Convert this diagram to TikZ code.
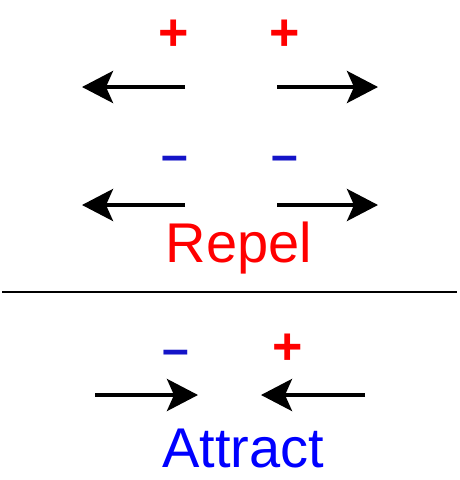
\documentclass[tikz,border=0pt]{standalone}
\usepackage{fontspec}
\setmainfont{Liberation Sans}
\usetikzlibrary{arrows.meta}
\begin{document}
\begin{tikzpicture}[x=1pt,y=-1pt,
  force/.style={line width=4pt,-{Stealth[length=31pt,width=32pt,inset=7pt]}},
  charge/.style={inner sep=0pt,font=\fontsize{48}{48}\selectfont\bfseries},
  poscharge/.style={inner sep=0pt,font=\fontsize{52}{52}\selectfont\bfseries,text={rgb,255:red,255;green,0;blue,0}},
  negcharge/.style={charge,text={rgb,255:red,20;green,20;blue,200}},
  word/.style={inner sep=0pt,anchor=base,font=\fontsize{56}{56}\selectfont}]
\useasboundingbox (0,0) rectangle (460,480);
% row 1: + +
\node[poscharge] (p1) at (174,35) {+};
\node[poscharge] (p2) at (285,35) {+};
\coordinate (a1s) at (185,87); \coordinate (a1e) at (82,87);
\coordinate (a2s) at (277,87); \coordinate (a2e) at (378,87);
\draw[force] (a1s) -- (a1e);
\draw[force] (a2s) -- (a2e);
% row 2: - -
\node[negcharge] (n1) at (175,164) {–};
\node[negcharge] (n2) at (285,164) {–};
\coordinate (b1s) at (185,205); \coordinate (b1e) at (82,205);
\coordinate (b2s) at (277,205); \coordinate (b2e) at (378,205);
\draw[force] (b1s) -- (b1e);
\draw[force] (b2s) -- (b2e);
\node[word,text=red] (repel) at (239,262) {Repel};
% divider
\coordinate (l1) at (2,292); \coordinate (l2) at (457,292);
\draw[line width=2pt] (l1) -- (l2);
% row 3: - +
\node[negcharge] (n3) at (176,358) {–};
\node[poscharge] (p3) at (288,349) {+};
\coordinate (c1s) at (95,395); \coordinate (c1e) at (198,395);
\coordinate (c2s) at (365,395); \coordinate (c2e) at (261,395);
\draw[force] (c1s) -- (c1e);
\draw[force] (c2s) -- (c2e);
\node[word,text=blue] (attract) at (243,467) {Attract};
\end{tikzpicture}
\end{document}
